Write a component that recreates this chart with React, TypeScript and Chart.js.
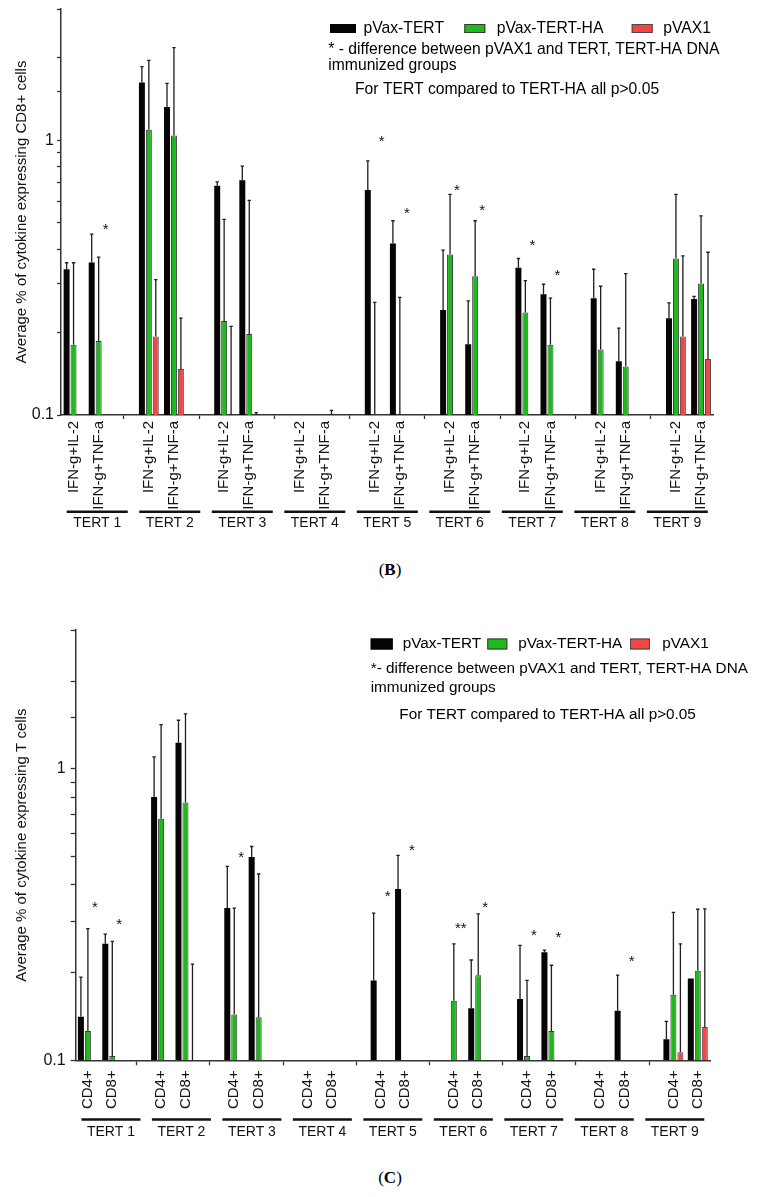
import React, { useEffect, useRef } from 'react';
import { Chart, registerables } from 'chart.js';

Chart.register(...registerables);

const SANS = '"Liberation Sans", Arial, Helvetica, sans-serif';
const SERIF = '"Liberation Serif", "Times New Roman", serif';

// ---------------- shared ----------------
const groupNames = ['TERT 1', 'TERT 2', 'TERT 3', 'TERT 4', 'TERT 5', 'TERT 6', 'TERT 7', 'TERT 8', 'TERT 9'];
const seriesNames = ['pVax-TERT', 'pVax-TERT-HA', 'pVAX1'];
const seriesColors = ['#050505', '#1db91d', '#f24646'];
const seriesBorders = ['#050505', '#3a3a3a', '#4a4a4a'];
const yMin = 0.1;
const yMax = 3;
const yLabelValues = [0.1, 1];

// ---------------- panel B (CD8+ cells) ----------------
// values listed group by group: [IFN-g+IL-2, IFN-g+TNF-a] for TERT 1..9
const cd8Categories = ['IFN-g+IL-2', 'IFN-g+TNF-a'];
const cd8Tert = [0.339, 0.359, 1.62, 1.32, 0.682, 0.714, null, null, 0.658, 0.421, 0.241, 0.181, 0.343, 0.275, 0.266, 0.157, 0.225, 0.264];
const cd8TertErr = [0.358, 0.455, 1.85, 1.61, 0.705, 0.804, null, null, 0.841, 0.509, 0.398, 0.26, 0.371, 0.299, 0.339, 0.207, 0.256, 0.27];
const cd8TertHa = [0.18, 0.186, 1.09, 1.04, 0.22, 0.197, null, null, null, null, 0.384, 0.32, 0.236, 0.18, 0.173, 0.15, 0.371, 0.301];
const cd8TertHaErr = [0.358, 0.375, 1.95, 2.17, 0.515, 0.604, null, null, 0.257, 0.268, 0.635, 0.509, 0.308, 0.266, 0.294, 0.327, 0.635, 0.53];
const cd8Vax = [null, null, 0.193, 0.147, null, null, null, null, null, null, null, null, null, null, null, null, 0.193, 0.16];
const cd8VaxErr = [null, null, 0.311, 0.225, 0.21, 0.102, null, 0.104, null, null, null, null, null, null, null, null, 0.379, 0.391];
const cd8StarIndex = [1, 8, 9, 10, 11, 12, 13];
const cd8StarValue = [0.49, 1.02, 0.561, 0.68, 0.572, 0.427, 0.334];
const cd8StarText = ['*', '*', '*', '*', '*', '*', '*'];
const cd8Notes = [
  '* - difference between pVAX1 and TERT, TERT-HA DNA',
  'immunized groups',
  'For TERT compared to TERT-HA all p>0.05',
];

// ---------------- panel C (T cells) ----------------
const tCategories = ['CD4+', 'CD8+'];
const tTert = [0.141, 0.251, 0.801, 1.23, 0.333, 0.499, null, null, 0.188, 0.387, null, 0.151, 0.1625, 0.235, null, 0.148, 0.118, 0.191];
const tTertErr = [0.193, 0.271, 1.1, 1.47, 0.463, 0.542, null, null, 0.32, 0.505, null, 0.221, 0.248, 0.239, null, 0.196, 0.136, null];
const tTertHa = [0.126, 0.1035, 0.675, 0.768, 0.1435, 0.1405, null, null, null, null, 0.16, 0.196, 0.1035, 0.126, null, null, 0.168, 0.203];
const tTertHaErr = [0.283, 0.256, 1.42, 1.545, 0.333, 0.436, null, null, null, null, 0.251, 0.318, 0.188, 0.212, null, null, 0.322, 0.33];
const tVax = [null, null, null, null, null, null, null, null, null, null, null, null, null, null, null, null, 0.1066, 0.13];
const tVaxErr = [null, null, null, 0.214, null, null, null, null, null, null, null, null, null, null, null, null, 0.251, 0.331];
const tStarIndex = [0, 1, 4, 8, 9, 10, 11, 12, 13, 15];
const tStarValue = [0.346, 0.303, 0.512, 0.378, 0.542, 0.292, 0.346, 0.277, 0.273, 0.226];
const tStarText = ['*', '*', '*', '*', '*', '**', '*', '*', '*', '*'];
const tNotes = [
  '*- difference between pVAX1 and TERT, TERT-HA DNA',
  'immunized groups',
  'For TERT compared to TERT-HA all p>0.05',
];

// ---------------- helpers ----------------
function slotLabels(cats: string[]) {
  const out: string[] = [];
  groupNames.forEach((_, gi) => {
    cats.forEach((c) => out.push(c));
    if (gi < groupNames.length - 1) out.push('');
  });
  return out;
}
function toSlots(arr: (number | null)[], nCats: number) {
  const out: (number | null)[] = [];
  groupNames.forEach((_, gi) => {
    for (let c = 0; c < nCats; c++) out.push(arr[gi * nCats + c]);
    if (gi < groupNames.length - 1) out.push(null);
  });
  return out;
}
const slotOf = (flat: number, nCats: number) => Math.floor(flat / nCats) * (nCats + 1) + (flat % nCats);

type Panel = {
  key: string;
  cats: string[];
  values: (number | null)[][];
  errors: (number | null)[][];
  starIndex: number[];
  starValue: number[];
  starText: string[];
  notes: string[];
  yTitle: string;
  width: number;
  height: number;
  yWidth: number;
  padTop: number;
  padRight: number;
  xHeight: number;
  x2Height: number;
  xTickLen: number;
  xTickPad: number;
  yTickLen: number;
  yTickPad: number;
  x2Pad: number;
  catPct: number;
  textSize: number;
  legendY: number;
  legendH: number;
  legendBoxX: number[];
  legendBoxW: number[];
  legendTextX: number[];
  notePos: number[][];
  groupLineW: number;
  groupLineDy: number;
};

const panelB: Panel = {
  key: 'B',
  cats: cd8Categories,
  values: [cd8Tert, cd8TertHa, cd8Vax],
  errors: [cd8TertErr, cd8TertHaErr, cd8VaxErr],
  starIndex: cd8StarIndex,
  starValue: cd8StarValue,
  starText: cd8StarText,
  notes: cd8Notes,
  yTitle: 'Average % of cytokine expressing CD8+ cells',
  width: 742,
  height: 532,
  yWidth: 53,
  padTop: 1,
  padRight: 36.4,
  xHeight: 96,
  x2Height: 29,
  xTickLen: 4,
  xTickPad: 2,
  yTickLen: 4,
  yTickPad: 3,
  x2Pad: 4,
  catPct: 0.83,
  textSize: 15.7,
  legendY: 20.5,
  legendH: 9,
  legendBoxX: [322, 456.3, 623.7],
  legendBoxW: [26, 21, 21],
  legendTextX: [355.5, 488.7, 655.3],
  notePos: [[320.3, 42], [320.3, 58], [347, 82]],
  groupLineW: 61,
  groupLineDy: 0.7,
};

const panelC: Panel = {
  key: 'C',
  cats: tCategories,
  values: [tTert, tTertHa, tVax],
  errors: [tTertErr, tTertHaErr, tVaxErr],
  starIndex: tStarIndex,
  starValue: tStarValue,
  starText: tStarText,
  notes: tNotes,
  yTitle: 'Average % of cytokine expressing T cells',
  width: 742,
  height: 549,
  yWidth: 67.7,
  padTop: 30,
  padRight: 40,
  xHeight: 58.7,
  x2Height: 30,
  xTickLen: 5,
  xTickPad: 5,
  yTickLen: 5,
  yTickPad: 5,
  x2Pad: 5,
  catPct: 0.86,
  textSize: 15.3,
  legendY: 44,
  legendH: 11,
  legendBoxX: [362.7, 479.3, 622],
  legendBoxW: [22, 20, 20],
  legendTextX: [394.7, 510.3, 654.3],
  notePos: [[362.7, 69], [362.7, 87.3], [391.3, 115]],
  groupLineW: 59,
  groupLineDy: 0.5,
};

function makeDeco(p: Panel) {
  const nCats = p.cats.length;
  const errSlots = p.errors.map((e) => toSlots(e, nCats));
  return {
    id: 'deco' + p.key,
    afterDatasetsDraw(chart: any) {
      const ctx = chart.ctx;
      const ys = chart.scales.y;
      ctx.save();
      ctx.strokeStyle = '#1e1e1e';
      ctx.lineWidth = 1.3;
      errSlots.forEach((errs, di) => {
        const meta = chart.getDatasetMeta(di);
        const vals = chart.data.datasets[di].data;
        errs.forEach((e, i) => {
          if (e == null) return;
          const el = meta.data[i];
          if (!el) return;
          const x = el.x;
          const v = vals[i];
          const y0 = v == null ? ys.bottom : ys.getPixelForValue(v);
          const y1 = ys.getPixelForValue(e);
          ctx.beginPath();
          ctx.moveTo(x, y0);
          ctx.lineTo(x, y1);
          ctx.moveTo(x - 1.7, y1);
          ctx.lineTo(x + 1.7, y1);
          ctx.stroke();
        });
      });
      ctx.restore();
    },
    afterDraw(chart: any) {
      const ctx = chart.ctx;
      const ys = chart.scales.y;
      const x2 = chart.scales.x2;
      ctx.save();
      // significance stars, above the pVAX1 bar position
      ctx.fillStyle = '#111';
      ctx.font = `15px ${SANS}`;
      ctx.textAlign = 'center';
      ctx.textBaseline = 'alphabetic';
      const redMeta = chart.getDatasetMeta(2);
      p.starIndex.forEach((flat, k) => {
        const el = redMeta.data[slotOf(flat, nCats)];
        if (!el) return;
        ctx.fillText(p.starText[k], el.x, ys.getPixelForValue(p.starValue[k]) + 8.5);
      });
      // legend
      ctx.font = `${p.textSize}px ${SANS}`;
      ctx.textAlign = 'left';
      ctx.textBaseline = 'middle';
      seriesNames.forEach((name, si) => {
        const bx = p.legendBoxX[si];
        const bw = p.legendBoxW[si];
        const by = p.legendY - p.legendH / 2;
        ctx.fillStyle = seriesColors[si];
        ctx.fillRect(bx, by, bw, p.legendH);
        ctx.strokeStyle = seriesBorders[si];
        ctx.lineWidth = 1;
        ctx.strokeRect(bx + 0.5, by + 0.5, bw - 1, p.legendH - 1);
        ctx.fillStyle = '#000';
        ctx.fillText(name, p.legendTextX[si], p.legendY);
      });
      // notes
      p.notes.forEach((t, k) => ctx.fillText(t, p.notePos[k][0], p.notePos[k][1]));
      // group underlines
      ctx.strokeStyle = '#111';
      ctx.lineWidth = 2.4;
      groupNames.forEach((_, k) => {
        const cx = x2.getPixelForTick(k);
        const y = x2.top + p.groupLineDy;
        ctx.beginPath();
        ctx.moveTo(cx - p.groupLineW / 2, y);
        ctx.lineTo(cx + p.groupLineW / 2, y);
        ctx.stroke();
      });
      ctx.restore();
    },
  };
}

function buildConfig(p: Panel): any {
  const nCats = p.cats.length;
  const labels = slotLabels(p.cats);
  return {
    type: 'bar',
    data: {
      labels,
      datasets: seriesNames.map((name, si) => ({
        label: name,
        data: toSlots(p.values[si], nCats),
        backgroundColor: seriesColors[si],
        borderColor: seriesBorders[si],
        borderWidth: si === 0 ? 0 : 1,
        categoryPercentage: p.catPct,
        barPercentage: 0.86,
        xAxisID: 'x',
        yAxisID: 'y',
      })),
    },
    options: {
      responsive: false,
      animation: false,
      events: [],
      layout: { padding: { top: p.padTop, right: p.padRight, bottom: 0, left: 0 } },
      plugins: { legend: { display: false }, tooltip: { enabled: false }, title: { display: false } },
      scales: {
        x: {
          type: 'category',
          position: 'bottom',
          offset: true,
          weight: 0,
          grid: {
            display: true,
            offset: false,
            drawOnChartArea: false,
            drawTicks: true,
            tickLength: p.xTickLen,
            tickWidth: 1.3,
            color: 'rgba(0,0,0,0)',
            tickColor: (c: any) => (labels[c.index] === '' ? '#333' : 'rgba(0,0,0,0)'),
          },
          border: { display: true, color: '#333', width: 1.5 },
          ticks: {
            autoSkip: false,
            maxRotation: 90,
            minRotation: 90,
            padding: p.xTickPad,
            color: '#111',
            font: { family: SANS, size: 15 },
          },
          afterFit: (s: any) => {
            s.height = p.xHeight;
            s.paddingLeft = 0;
            s.paddingRight = 0;
          },
        },
        x2: {
          type: 'category',
          labels: groupNames,
          position: 'bottom',
          offset: true,
          weight: 1,
          grid: { display: false, drawTicks: false, drawOnChartArea: false },
          border: { display: false },
          ticks: { autoSkip: false, maxRotation: 0, minRotation: 0, padding: p.x2Pad, color: '#111', font: { family: SANS, size: 14 } },
          afterFit: (s: any) => {
            s.height = p.x2Height;
            s.paddingLeft = 0;
            s.paddingRight = 0;
          },
        },
        y: {
          type: 'logarithmic',
          min: yMin,
          max: yMax,
          position: 'left',
          grid: {
            display: true,
            drawOnChartArea: false,
            drawTicks: true,
            tickLength: p.yTickLen,
            tickWidth: 1.3,
            color: '#333',
            tickColor: '#333',
          },
          border: { display: true, color: '#333', width: 1.5 },
          ticks: {
            autoSkip: false,
            padding: p.yTickPad,
            color: '#111',
            font: { family: SANS, size: 16 },
            callback: (v: number) => {
              const hit = yLabelValues.find((t) => Math.abs(v - t) < 1e-9);
              return hit === undefined ? '' : String(hit);
            },
          },
          title: {
            display: true,
            text: p.yTitle,
            color: '#111',
            font: { family: SANS, size: 15 },
            padding: { top: 5, bottom: 0 },
          },
          afterFit: (s: any) => {
            s.width = p.yWidth;
            s.paddingTop = 0;
            s.paddingBottom = 0;
          },
        },
      },
    },
    plugins: [makeDeco(p)],
  };
}

function ChartPanel({ p }: { p: Panel }) {
  const ref = useRef<HTMLCanvasElement | null>(null);
  useEffect(() => {
    if (!ref.current) return;
    const chart = new Chart(ref.current, buildConfig(p));
    return () => chart.destroy();
  }, [p]);
  return (
    <canvas
      ref={ref}
      width={p.width}
      height={p.height}
      style={{ display: 'block', width: p.width, height: p.height }}
    />
  );
}

export default function App() {
  return (
    <div style={{ width: 742 }}>
      <style>{'html,body{overflow:hidden}'}</style>
      <ChartPanel p={panelB} />
      <div
        style={{
          height: 60,
          lineHeight: '60px',
          textAlign: 'center',
          paddingLeft: 22,
          fontFamily: SERIF,
          fontSize: 17,
          color: '#000',
        }}
      >
        (<b>B</b>)
      </div>
      <ChartPanel p={panelC} />
      <div
        style={{
          height: 40,
          boxSizing: 'border-box',
          paddingTop: 19,
          lineHeight: '20px',
          textAlign: 'center',
          paddingLeft: 22,
          fontFamily: SERIF,
          fontSize: 17,
          color: '#000',
        }}
      >
        (<b>C</b>)
      </div>
    </div>
  );
}
